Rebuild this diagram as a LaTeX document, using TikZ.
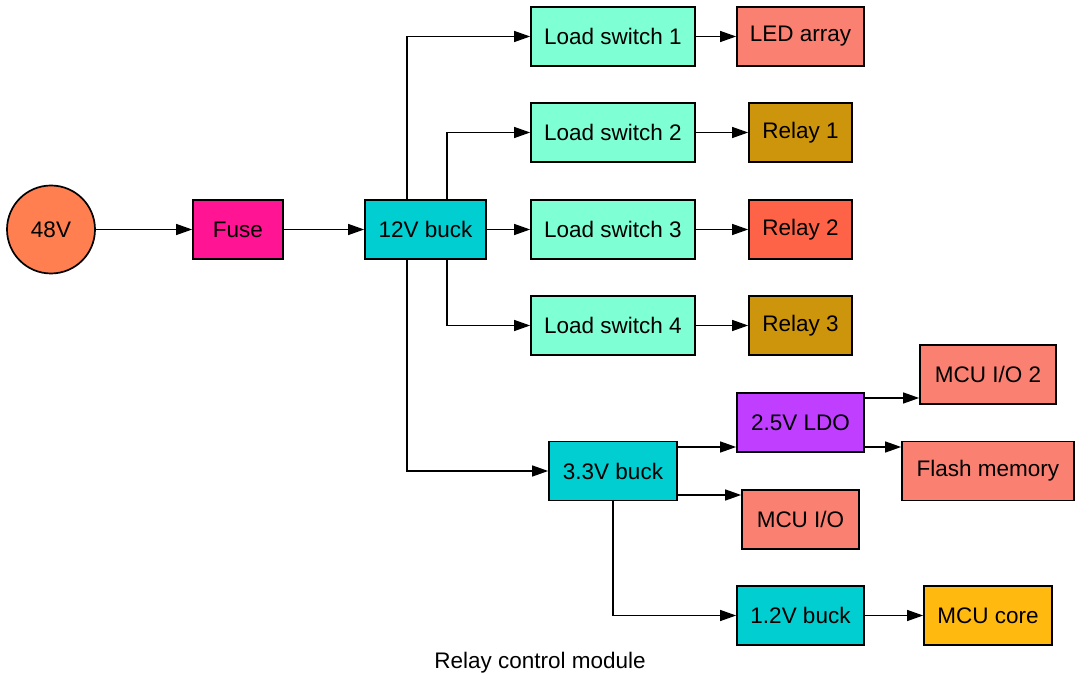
\documentclass[tikz,border=0pt]{standalone}
\usepackage{fontspec}
\setmainfont{Liberation Sans}
\usepackage{xcolor}
\usetikzlibrary{arrows.meta,positioning}
\definecolor{srccoral}{HTML}{FF7F50}
\definecolor{fusepink}{HTML}{FF1493}
\definecolor{buckcyan}{HTML}{00CED1}
\definecolor{swaqua}{HTML}{7FFFD4}
\definecolor{loadsalmon}{HTML}{FA8072}
\definecolor{relaygold}{HTML}{CD950C}
\definecolor{relaytomato}{HTML}{FF6347}
\definecolor{ldopurple}{HTML}{BF3EFF}
\definecolor{coreamber}{HTML}{FFB90F}

\begin{document}
\begin{tikzpicture}[x=1pt,y=-1pt,>={Triangle[length=16pt,width=11pt]},font=\fontsize{22.5}{27}\selectfont]

\tikzset{
b/.style={
    draw=black,
    line width=1.7pt,
    minimum height=59pt,
    inner sep=0pt,
    align=center
},
c/.style={
    draw=black,
    line width=1.7pt,
    circle,
    minimum size=88pt,
    inner sep=0pt,
    fill=srccoral
},
a/.style={->,line width=1.2pt,color=black}
}

\useasboundingbox (0,0) rectangle (1082,692);

\node[c] (src) at (51,229.5) {48V};
\node[b,fill=fusepink,minimum width=90pt] (fuse) at (238,229.5) {Fuse};
\node[b,fill=buckcyan,minimum width=121pt] (buck12) at (425.5,229.5) {12V buck};

\node[b,fill=swaqua,minimum width=164pt] (ls1) at (613,36.5) {Load switch 1};
\node[b,fill=swaqua,minimum width=164pt] (ls2) at (613,132.5) {Load switch 2};
\node[b,fill=swaqua,minimum width=164pt] (ls3) at (613,229.5) {Load switch 3};
\node[b,fill=swaqua,minimum width=164pt] (ls4) at (613,325.5) {Load switch 4};

\node[b,fill=loadsalmon,minimum width=127pt] (led) at (800.5,36.5) {LED array};
\node[b,fill=relaygold,minimum width=103pt] (relay1) at (800.5,132.5) {Relay 1};
\node[b,fill=relaytomato,minimum width=103pt] (relay2) at (800.5,229.5) {Relay 2};
\node[b,fill=relaygold,minimum width=103pt] (relay3) at (800.5,325.5) {Relay 3};

\node[b,fill=buckcyan,minimum width=128pt] (buck33) at (613,471) {3.3V buck};
\node[b,fill=ldopurple,minimum width=127pt] (ldo) at (800.5,422.5) {2.5V LDO};
\node[b,fill=loadsalmon,minimum width=117pt] (mcuio) at (800.5,519.5) {MCU I/O};
\node[b,fill=buckcyan,minimum width=127pt] (buck1v2) at (800.5,615.5) {1.2V buck};

\node[b,fill=loadsalmon,minimum width=136pt] (mcuio2) at (988,374.5) {MCU I/O 2};
\node[b,fill=loadsalmon,minimum width=172pt] (flash) at (988,471) {Flash memory};
\node[b,fill=coreamber,minimum width=128pt] (core) at (988,615.5) {MCU core};

\node (title) at (540,663) {Relay control module};

\draw[a] (src) -- (fuse);
\draw[a] (fuse) -- (buck12);

\draw[a] ([xshift=-18.5pt]buck12.north) |- (ls1.west);
\draw[a] ([xshift=21.5pt]buck12.north) |- (ls2.west);
\draw[a] (buck12) -- (ls3);
\draw[a] ([xshift=21.5pt]buck12.south) |- (ls4.west);
\draw[a] ([xshift=-18.5pt]buck12.south) |- (buck33.west);

\draw[a] (ls1) -- (led);
\draw[a] (ls2) -- (relay1);
\draw[a] (ls3) -- (relay2);
\draw[a] (ls4) -- (relay3);

\draw[a] ([yshift=24pt]buck33.east) -- ([yshift=24pt]buck33.east -| ldo.west);
\draw[a] ([yshift=-24pt]buck33.east) -- ([yshift=-24pt]buck33.east -| mcuio.west);
\draw[a] (buck33.south) |- (buck1v2.west);

\draw[a] ([yshift=24.5pt]ldo.east) -- ([yshift=24.5pt]ldo.east -| mcuio2.west);
\draw[a] ([yshift=-24.5pt]ldo.east) -- ([yshift=-24.5pt]ldo.east -| flash.west);
\draw[a] (buck1v2) -- (core);

\end{tikzpicture}
\end{document}
